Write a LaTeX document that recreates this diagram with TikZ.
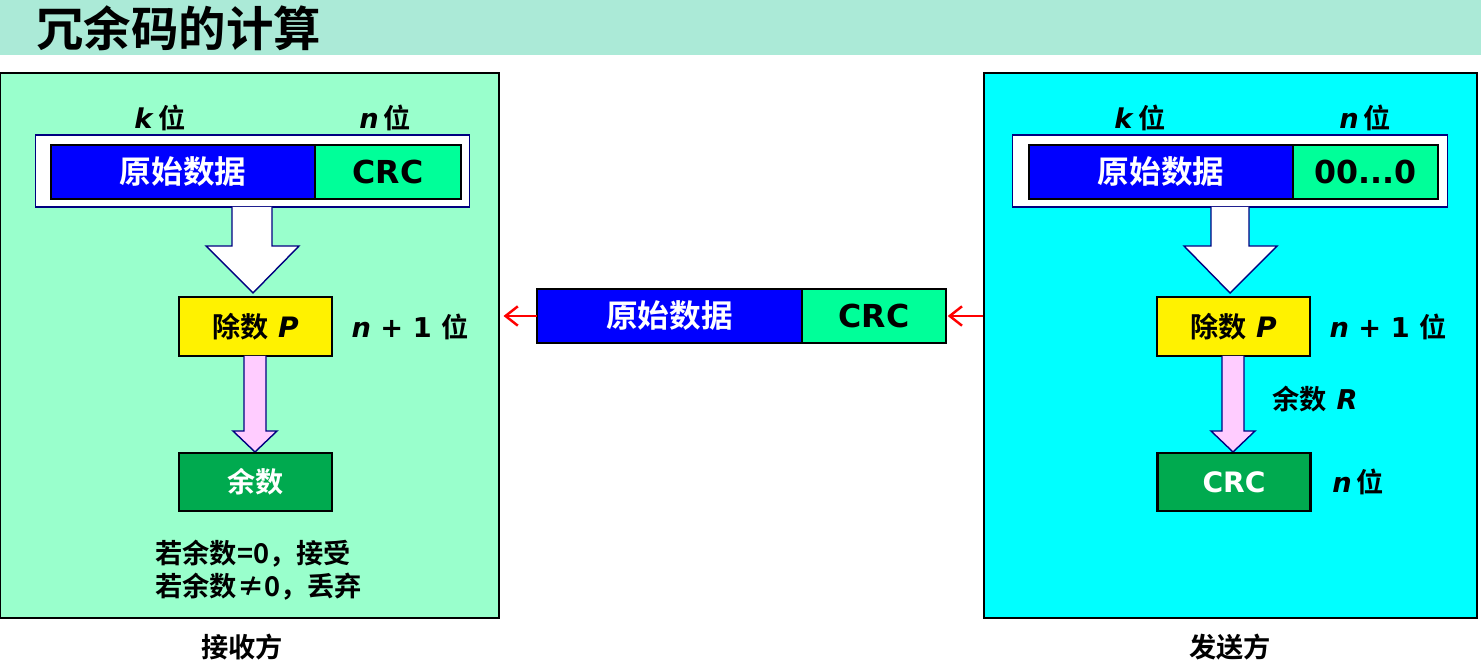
\documentclass[tikz,border=0pt]{standalone}
\usepackage{fontspec}
\setmainfont{DejaVu Sans}
\newfontfamily\cjk{Noto Sans CJK SC}[BoldFont={Noto Sans CJK SC Bold}]
\usetikzlibrary{positioning,arrows.meta}

\definecolor{titlebg}{HTML}{ABEAD7}
\definecolor{recvbg}{HTML}{99FFCC}
\definecolor{sendbg}{HTML}{00FFFF}
\definecolor{databl}{HTML}{0000FF}
\definecolor{crcgr}{HTML}{00FF99}
\definecolor{remgr}{HTML}{00AA4F}
\definecolor{pinkar}{HTML}{FFCCFF}
\definecolor{navy}{HTML}{000080}

\newcommand{\zh}[1]{{\cjk\bfseries #1}}

\begin{document}
\begin{tikzpicture}[x=0.02cm, y=-0.02cm,
  panel/.style={draw=black, line width=1.2pt, inner sep=0pt, minimum height=10.9cm},
  frame/.style={draw=navy, fill=white, line width=0.6pt, inner sep=0pt, minimum width=8.7cm, minimum height=1.44cm},
  box/.style={draw=black, line width=1.3pt, inner sep=0pt, outer sep=0pt, minimum height=1.08cm,
    font=\bfseries\fontsize{18pt}{21pt}\selectfont},
  smallbox/.style={draw=black, line width=1.3pt, inner sep=0pt, minimum width=3.06cm, minimum height=1.17cm,
    font=\bfseries\fontsize{16pt}{19pt}\selectfont},
  lbl/.style={font=\bfseries\fontsize{15.5pt}{19pt}\selectfont, inner sep=0pt},
  fat/.style={draw=navy, line width=0.8pt, line join=miter},
  sendarrow/.style={draw=red, line width=1.4pt, -{Straight Barb[length=7pt, width=11pt]}}]
  \useasboundingbox (0,0) rectangle (1481,668);

  % title bar
  \fill[titlebg] (0,0) rectangle (1481,55);
  \node[anchor=west, inner sep=0pt, font=\fontsize{27pt}{31pt}\selectfont] (title) at (36,28) {\zh{冗余码的计算}};

  % receiver side
  \node[panel, fill=recvbg, minimum width=9.98cm] (recv) at (249.5,345.5) {};
  \node[frame] (frameL) at (252.5,171) {};
  \node[box, fill=databl, text=white, minimum width=5.28cm] (dataL) at (183,172) {\zh{原始数据}};
  \node[box, fill=crcgr, minimum width=2.92cm, right=0pt of dataL] (crcL) {CRC};
  \node[lbl] (kL) at (160,118) {\textit{k}\,\zh{位}};
  \node[lbl] (nL) at (385,118) {\textit{n}\,\zh{位}};
  \draw[fat, fill=white] (232,207) -- (232,246) -- (206,246) -- (253,293) -- (299,246) -- (272,246) -- (272,207);
  \node[smallbox, fill=yellow] (divL) at (255.5,326.5) {\zh{除数}~\textit{P}};
  \node[lbl] (bitsL) at (410,327) {\textit{n} + 1 \zh{位}};
  \draw[fat, fill=pinkar] (244,356) -- (244,431) -- (233,431) -- (255,452) -- (277,431) -- (266,431) -- (266,356);
  \node[smallbox, fill=remgr, text=white] (remL) at (255.5,482) {\zh{余数}};
  \node[lbl, anchor=west, align=left] (rule) at (155,570) {\zh{若余数=0，接受}\\\zh{若余数≠0，丢弃}};
  \node[lbl] (recvname) at (242,647) {\zh{接收方}};

  % frame on the line
  \node[box, fill=databl, text=white, minimum width=5.3cm] (dataM) at (669.5,316) {\zh{原始数据}};
  \node[box, fill=crcgr, minimum width=2.88cm, right=0pt of dataM] (crcM) {CRC};

  % sender side
  \node[panel, fill=sendbg, minimum width=9.86cm] (send) at (1230.5,345.5) {};
  \node[frame] (frameR) at (1230,171) {};
  \node[box, fill=databl, text=white, minimum width=5.28cm] (dataR) at (1161,172) {\zh{原始数据}};
  \node[box, fill=crcgr, minimum width=2.9cm, right=0pt of dataR] (zeroR) {00...0};
  \node[lbl] (kR) at (1140,118) {\textit{k}\,\zh{位}};
  \node[lbl] (nR) at (1365,118) {\textit{n}\,\zh{位}};
  \draw[fat, fill=white] (1211,207) -- (1211,246) -- (1184,246) -- (1230,293) -- (1277,246) -- (1249,246) -- (1249,207);
  \node[smallbox, fill=yellow] (divR) at (1233.5,326.5) {\zh{除数}~\textit{P}};
  \node[lbl] (bitsR) at (1388,327) {\textit{n} + 1 \zh{位}};
  \draw[fat, fill=pinkar] (1222,356) -- (1222,431) -- (1211,431) -- (1233,452) -- (1255,431) -- (1244,431) -- (1244,356);
  \node[lbl] (remname) at (1315,399) {\zh{余数}~\textit{R}};
  \node[smallbox, fill=remgr, text=white] (crcR) at (1234,482) {CRC};
  \node[lbl] (nbitsR) at (1358,482) {\textit{n}\,\zh{位}};
  \node[lbl] (sendname) at (1230,647) {\zh{发送方}};

  % transmission arrows
  \draw[sendarrow, shorten >=1pt] (send.west |- crcM.east) -- (crcM.east);
  \draw[sendarrow, shorten >=2pt] (dataM.west) -- (recv.east |- dataM.west);
\end{tikzpicture}
\end{document}
